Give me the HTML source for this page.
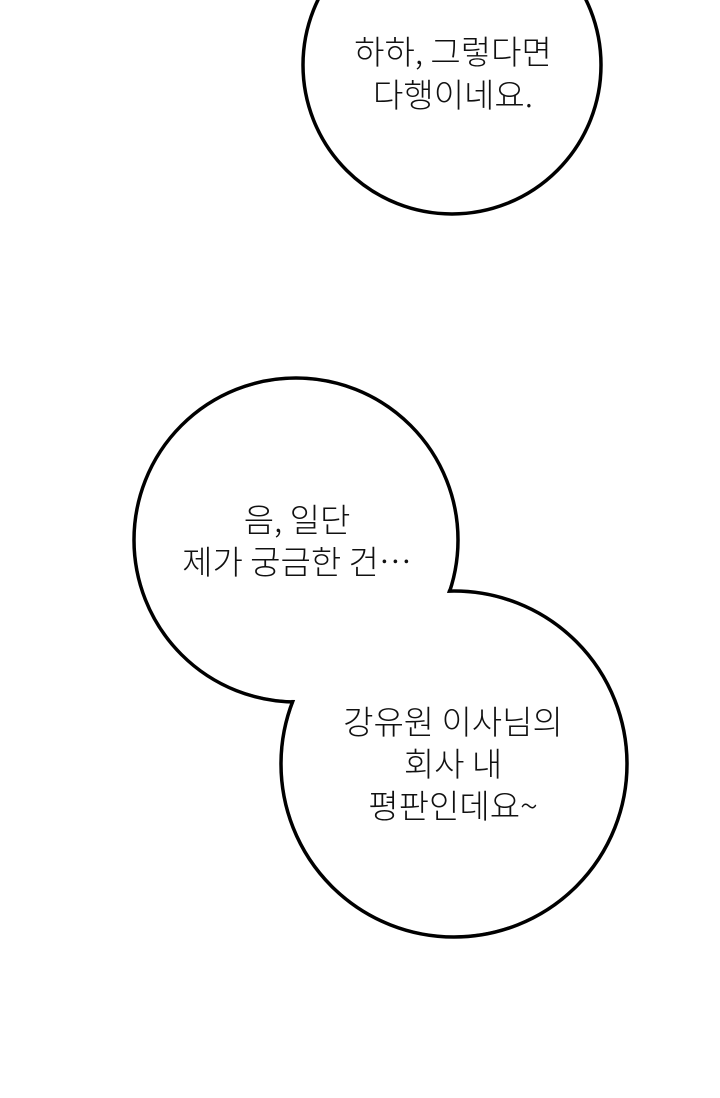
<!DOCTYPE html>
<html><head><meta charset="utf-8"><style>
html,body{margin:0;padding:0;background:#fff;}
body{width:720px;height:1098px;overflow:hidden;position:relative;}
svg{position:absolute;left:0;top:0;}
text{font-family:"Noto Sans CJK KR","NanumGothic",sans-serif;font-weight:300;font-size:33px;fill:#111;text-anchor:middle;}
</style></head><body>
<svg width="720" height="1098" viewBox="0 0 720 1098">
<ellipse cx="452" cy="65" rx="149" ry="149" fill="#fff" stroke="#000" stroke-width="3.5"/>
<circle cx="296" cy="540" r="162" fill="#fff" stroke="#000" stroke-width="3.5"/>
<circle cx="454" cy="764" r="173" fill="#fff" stroke="#000" stroke-width="3.5"/>
<circle cx="296" cy="540" r="160" fill="#fff"/>
<circle cx="454" cy="764" r="171" fill="#fff"/>
<text x="453" y="64">하하, 그렇다면</text>
<text x="453" y="107">다행이네요.</text>
<text x="297" y="532">음, 일단</text>
<text x="297" y="574">제가 궁금한 건…</text>
<text x="453" y="734">강유원 이사님의</text>
<text x="453" y="776">회사 내</text>
<text x="453" y="818">평판인데요~</text>
</svg>
</body></html>
